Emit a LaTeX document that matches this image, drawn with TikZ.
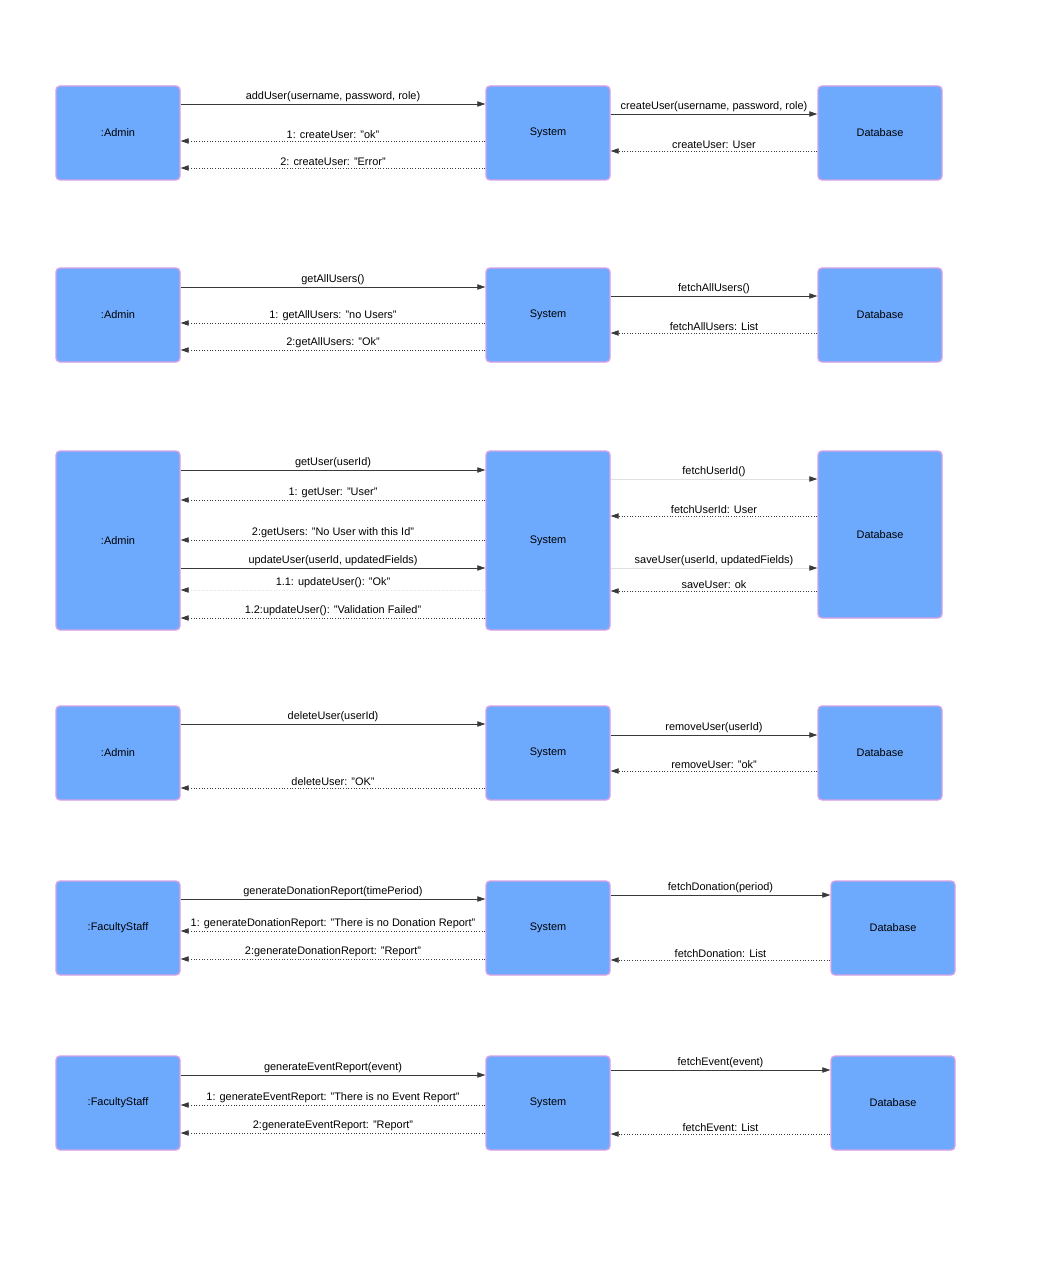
\documentclass[tikz,border=0pt]{standalone}
\usepackage{fontspec}
\setmainfont{Liberation Sans}
\usetikzlibrary{arrows.meta}
\definecolor{boxfill}{HTML}{6DAAFE}
\definecolor{boxline}{HTML}{D8A0E6}
\definecolor{ink}{HTML}{3A3A3A}
\tikzset{
  box/.style={draw=boxline, fill=boxfill, line width=1pt, rounded corners=3pt,
    minimum width=93pt, minimum height=70.5pt, font=\fontsize{8.2}{10}\selectfont},
  tallbox/.style={box, minimum height=134.25pt},
  call/.style={ink, line width=0.6pt, -{Triangle[length=6pt,width=4pt]}},
  ret/.style={ink, line width=0.6pt, dash pattern=on 0.8pt off 1.2pt, -{Triangle[length=6pt,width=4pt]}},
  faint/.style={draw=gray!25, -{Triangle[length=6pt,width=4pt,color=ink]}},
  lbl/.style={midway, above, inner sep=1.5pt, text=black, font=\fontsize{8.2}{10}\selectfont}
}
\newcommand{\callmsg}[5][]{\draw[call,#1] (#2.east |- 0,#4) -- (#3.west |- 0,#4) node[lbl] {#5};}
\newcommand{\retmsg}[5][]{\draw[ret,#1] (#2.west |- 0,#4) -- (#3.east |- 0,#4) node[lbl] {#5};}
\begin{document}
\begin{tikzpicture}[x=0.75pt, y=-0.75pt]
\useasboundingbox[fill=white] (0,0) rectangle (1063,1280);

\foreach \r/\y/\who/\dx in {a/133/:Admin/880, b/315/:Admin/880, d/753/:Admin/880, e/928/:FacultyStaff/893, f/1103/:FacultyStaff/893}
{
\node[box] (act\r) at (118,\y) {\who};
\node[box] (sys\r) at (548,\y) {System};
\node[box] (db\r) at (\dx,\y) {Database};
}
\node[tallbox] (actc) at (118,540.5) {:Admin};
\node[tallbox] (sysc) at (548,540.5) {System};
\node[box, minimum height=125.25pt] (dbc) at (880,534.5) {Database};

\callmsg{acta}{sysa}{104}{addUser(username, password, role)}
\retmsg{sysa}{acta}{141}{1: createUser: "ok"}
\retmsg{sysa}{acta}{168}{2: createUser: "Error"}
\callmsg{sysa}{dba}{114}{createUser(username, password, role)}
\retmsg{dba}{sysa}{151}{createUser: User}

\callmsg{actb}{sysb}{287}{getAllUsers()}
\retmsg{sysb}{actb}{323}{1: getAllUsers: "no Users"}
\retmsg{sysb}{actb}{350}{2:getAllUsers: "Ok"}
\callmsg{sysb}{dbb}{296}{fetchAllUsers()}
\retmsg{dbb}{sysb}{333}{fetchAllUsers: List}

\callmsg{actc}{sysc}{470}{getUser(userId)}
\retmsg{sysc}{actc}{500}{1: getUser: "User"}
\retmsg{sysc}{actc}{540}{2:getUsers: "No User with this Id"}
\callmsg{actc}{sysc}{568}{updateUser(userId, updatedFields)}
\retmsg[faint]{sysc}{actc}{590}{1.1: updateUser(): "Ok"}
\retmsg{sysc}{actc}{618}{1.2:updateUser(): "Validation Failed"}
\callmsg[faint]{sysc}{dbc}{479}{fetchUserId()}
\retmsg{dbc}{sysc}{516}{fetchUserId: User}
\callmsg[faint]{sysc}{dbc}{568}{saveUser(userId, updatedFields)}
\retmsg{dbc}{sysc}{591}{saveUser: ok}

\callmsg{actd}{sysd}{724}{deleteUser(userId)}
\retmsg{sysd}{actd}{788}{deleteUser: "OK"}
\callmsg{sysd}{dbd}{735}{removeUser(userId)}
\retmsg{dbd}{sysd}{771}{removeUser: "ok"}

\callmsg{acte}{syse}{899}{generateDonationReport(timePeriod)}
\retmsg{syse}{acte}{931}{1: generateDonationReport: "There is no Donation Report"}
\retmsg{syse}{acte}{959}{2:generateDonationReport: "Report"}
\callmsg{syse}{dbe}{895}{fetchDonation(period)}
\retmsg{dbe}{syse}{960}{fetchDonation: List}

\callmsg{actf}{sysf}{1075}{generateEventReport(event)}
\retmsg{sysf}{actf}{1105}{1: generateEventReport: "There is no Event Report"}
\retmsg{sysf}{actf}{1133}{2:generateEventReport: "Report"}
\callmsg{sysf}{dbf}{1070}{fetchEvent(event)}
\retmsg{dbf}{sysf}{1134}{fetchEvent: List}
\end{tikzpicture}
\end{document}
